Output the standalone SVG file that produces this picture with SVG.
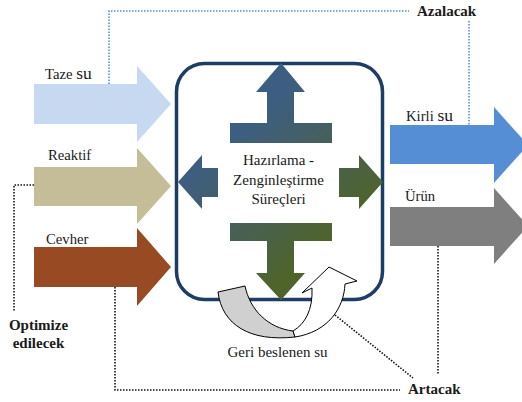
<svg xmlns="http://www.w3.org/2000/svg" width="522" height="402" viewBox="0 0 522 402">
  <defs>
    <!-- shared diagonal shading for the four arrows inside the process box -->
    <linearGradient id="innerShade" gradientUnits="userSpaceOnUse" x1="178" y1="63" x2="383" y2="300">
      <stop offset="0" stop-color="#395c8c"/>
      <stop offset="0.3" stop-color="#3d5e80"/>
      <stop offset="0.5" stop-color="#475f5a"/>
      <stop offset="0.75" stop-color="#4f6429"/>
      <stop offset="1" stop-color="#516522"/>
    </linearGradient>
  </defs>
  <style>
    text { font-family: 'Liberation Serif', 'DejaVu Serif', serif; }
    .lbl { font-size: 14.7px; fill: #1a1a1a; }
    .big { font-size: 17.5px; }
    .note { font-size: 15px; font-weight: bold; fill: #1a1a1a; }
    .ctr { font-size: 15px; fill: #1a1a1a; text-anchor: middle; }
    .dotK { fill: none; stroke: #111; stroke-width: 1.6; stroke-dasharray: 1.5 1.5; }
    .dotB { fill: none; stroke: #558ed5; stroke-width: 1.6; stroke-dasharray: 1.5 1.5; }
    .inner { fill: url(#innerShade); }
  </style>

  <rect width="522" height="402" fill="#ffffff"/>

  <!-- input streams -->
  <g id="taze-su">
    <path d="M34,84 H137 V66 L171,104 L137,142 V124 H34 Z" fill="#c6d9f1"/>
    <text class="lbl" x="45" y="79" font-family="Liberation Serif, DejaVu Serif, serif">Taze <tspan class="big">su</tspan></text>
  </g>
  <g id="reaktif">
    <path d="M34,167 H137 V148 L171,186 L137,224 V206 H34 Z" fill="#c4bd97"/>
    <text class="lbl" x="48" y="160">Reaktif</text>
  </g>
  <g id="cevher">
    <path d="M34,247 H137 V228 L171,267 L137,306 V287 H34 Z" fill="#984a23"/>
    <text class="lbl" x="46" y="244">Cevher</text>
  </g>

  <!-- output streams -->
  <g id="kirli-su">
    <path d="M390,125 H494 V107 L528,145 L494,183 V164 H390 Z" fill="#558ed5"/>
    <text class="lbl" x="406" y="121">Kirli <tspan class="big">su</tspan></text>
  </g>
  <g id="urun">
    <path d="M390,207 H494 V188 L528,226 L494,264 V246 H390 Z" fill="#7f7f7f"/>
    <text class="lbl" x="405" y="201">Ürün</text>
  </g>

  <!-- process box with its four inner arrows -->
  <g id="process">
    <rect x="176.5" y="63.5" width="206" height="236" rx="28" ry="28" fill="#ffffff" stroke="#1f3c64" stroke-width="3.5"/>
    <path class="inner" d="M230,143 H332 V123 H294 V92 H305 L281,63 L256,92 H267 V123 H230 Z"/>
    <path class="inner" d="M230,223 H332 V241 H294 V273 H305 L281,300 L256,273 H267 V241 H230 Z"/>
    <path class="inner" d="M218,168 V197 H202 V209 L178,182 L202,155 V168 Z"/>
    <path class="inner" d="M339,168 H359 V155 L383,182 L359,209 V197 H339 Z"/>
    <text class="ctr" x="278.5" y="165">Hazırlama -</text>
    <text class="ctr" x="278.5" y="185">Zenginleştirme</text>
    <text class="ctr" x="278.5" y="204">Süreçleri</text>
  </g>

  <!-- recycled water loop -->
  <g id="geri-beslenen-su">
    <path d="M218,292 L245,286 C250,310 268,328 293,331 L295,337 C250,342 222,325 218,292 Z" fill="#d0d0d0" stroke="#000" stroke-width="1" stroke-linejoin="round"/>
    <path d="M293,331 C305,324 313,310 312,288 L302,293 L329,267 L357,281 L345,284 C344,308 328,332 295,337 Z" fill="#ffffff" stroke="#000" stroke-width="1" stroke-linejoin="round"/>
    <text class="ctr" x="277.5" y="357">Geri beslenen su</text>
  </g>

  <!-- annotations -->
  <g id="azalacak"><text class="note" x="417" y="16">Azalacak</text></g>
  <g id="artacak"><text class="note" x="408" y="394">Artacak</text></g>
  <g id="optimize-edilecek">
    <text class="note" x="38.5" y="330" text-anchor="middle">Optimize</text>
    <text class="note" x="38.5" y="348" text-anchor="middle">edilecek</text>
  </g>

  <!-- dotted connectors -->
  <g id="connectors">
    <path class="dotB" d="M109,84 V11 H409"/>
    <path class="dotB" d="M469,21 V125"/>
    <path class="dotK" d="M34,185 H14 V312"/>
    <path class="dotK" d="M115,287 V390 H400"/>
    <path class="dotK" d="M438,246 V375"/>
    <path class="dotK" d="M335,315 L413,378"/>
  </g>
</svg>
